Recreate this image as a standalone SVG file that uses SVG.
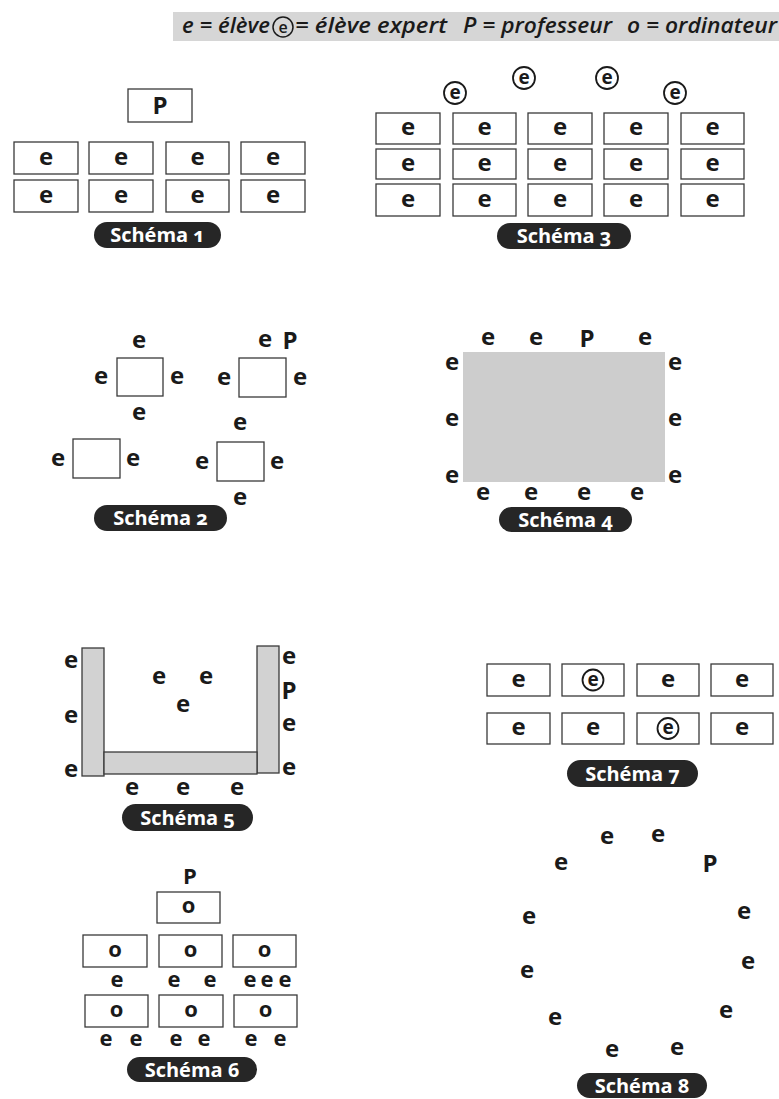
<svg xmlns="http://www.w3.org/2000/svg" width="779" height="1099" viewBox="0 0 779 1099">
<style>
.bg{fill:#fff}
.box{fill:#fff;stroke:#3a3a3a;stroke-width:1.3}
.gbar{fill:#d2d2d2;stroke:#3a3a3a;stroke-width:1.3}
.gtab{fill:#cdcdcd}
.t{font-family:"Open Sans","Noto Sans","Liberation Sans",sans-serif;font-weight:700;font-size:24px;fill:#1a1a1a;text-anchor:middle}
.t6{font-family:"Open Sans","Noto Sans","Liberation Sans",sans-serif;font-weight:700;font-size:22px;fill:#1a1a1a;text-anchor:middle}
.ts{font-family:"Open Sans","Noto Sans","Liberation Sans",sans-serif;font-weight:700;font-size:19px;fill:#1a1a1a;text-anchor:middle}
.ring{fill:none;stroke:#1a1a1a;stroke-width:1.8}
.pill{fill:#262626}
.pt{font-family:"Open Sans","Noto Sans","Liberation Sans",sans-serif;font-weight:700;font-size:20px;fill:#fff;text-anchor:middle;font-variant-numeric:oldstyle-nums}
.hd{font-family:"Open Sans","Noto Sans","Liberation Sans",sans-serif;font-style:italic;font-weight:600;font-size:21px;fill:#1a1a1a}
</style>
<rect class="bg" x="0" y="0" width="779" height="1099"/>

<g id="legend">
<rect x="173" y="12" width="606" height="29" fill="#d6d6d6"/>
<text class="hd" x="182" y="33" textLength="88" lengthAdjust="spacingAndGlyphs">e = élève</text>
<circle cx="283" cy="27" r="10" fill="none" stroke="#1a1a1a" stroke-width="1.5"/>
<text class="hd" x="283" y="32.5" text-anchor="middle" style="font-size:16px;font-style:normal">e</text>
<text class="hd" x="295" y="33" textLength="152" lengthAdjust="spacingAndGlyphs">= élève expert</text>
<text class="hd" x="463" y="33" textLength="149" lengthAdjust="spacingAndGlyphs">P = professeur</text>
<text class="hd" x="627" y="33" textLength="150" lengthAdjust="spacingAndGlyphs">o = ordinateur</text>
</g>

<g id="schema1">
<g id="s1-prof"><rect class="box" x="128" y="89" width="64" height="33"/><text class="t" x="160" y="114">P</text></g>
<g id="s1-r1c1"><rect class="box" x="14" y="142" width="64" height="32"/><text class="t" x="46" y="164.5">e</text></g>
<g id="s1-r1c2"><rect class="box" x="89" y="142" width="64" height="32"/><text class="t" x="121" y="164.5">e</text></g>
<g id="s1-r1c3"><rect class="box" x="166" y="142" width="63" height="32"/><text class="t" x="197.5" y="164.5">e</text></g>
<g id="s1-r1c4"><rect class="box" x="241" y="142" width="64" height="32"/><text class="t" x="273" y="164.5">e</text></g>
<g id="s1-r2c1"><rect class="box" x="14" y="180" width="64" height="32"/><text class="t" x="46" y="202.5">e</text></g>
<g id="s1-r2c2"><rect class="box" x="89" y="180" width="64" height="32"/><text class="t" x="121" y="202.5">e</text></g>
<g id="s1-r2c3"><rect class="box" x="166" y="180" width="63" height="32"/><text class="t" x="197.5" y="202.5">e</text></g>
<g id="s1-r2c4"><rect class="box" x="241" y="180" width="64" height="32"/><text class="t" x="273" y="202.5">e</text></g>
<g id="s1-label"><rect class="pill" x="94" y="222" width="127" height="26" rx="13"/><text class="pt" x="157.5" y="242">Schéma 1</text></g>
</g>

<g id="schema3">
<g id="s3-x1"><circle class="ring" cx="455" cy="93" r="11"/><text class="ts" x="455" y="98.5">e</text></g>
<g id="s3-x2"><circle class="ring" cx="524" cy="78" r="11"/><text class="ts" x="524" y="83.5">e</text></g>
<g id="s3-x3"><circle class="ring" cx="607" cy="78" r="11"/><text class="ts" x="607" y="83.5">e</text></g>
<g id="s3-x4"><circle class="ring" cx="675" cy="93" r="11"/><text class="ts" x="675" y="98.5">e</text></g>
<g id="s3-r1c1"><rect class="box" x="376" y="113" width="64" height="31"/><text class="t" x="408" y="135">e</text></g>
<g id="s3-r1c2"><rect class="box" x="453" y="113" width="63" height="31"/><text class="t" x="484.5" y="135">e</text></g>
<g id="s3-r1c3"><rect class="box" x="528" y="113" width="64" height="31"/><text class="t" x="560" y="135">e</text></g>
<g id="s3-r1c4"><rect class="box" x="604" y="113" width="64" height="31"/><text class="t" x="636" y="135">e</text></g>
<g id="s3-r1c5"><rect class="box" x="681" y="113" width="63" height="31"/><text class="t" x="712.5" y="135">e</text></g>
<g id="s3-r2c1"><rect class="box" x="376" y="149" width="64" height="30"/><text class="t" x="408" y="170.5">e</text></g>
<g id="s3-r2c2"><rect class="box" x="453" y="149" width="63" height="30"/><text class="t" x="484.5" y="170.5">e</text></g>
<g id="s3-r2c3"><rect class="box" x="528" y="149" width="64" height="30"/><text class="t" x="560" y="170.5">e</text></g>
<g id="s3-r2c4"><rect class="box" x="604" y="149" width="64" height="30"/><text class="t" x="636" y="170.5">e</text></g>
<g id="s3-r2c5"><rect class="box" x="681" y="149" width="63" height="30"/><text class="t" x="712.5" y="170.5">e</text></g>
<g id="s3-r3c1"><rect class="box" x="376" y="184" width="64" height="32"/><text class="t" x="408" y="206.5">e</text></g>
<g id="s3-r3c2"><rect class="box" x="453" y="184" width="63" height="32"/><text class="t" x="484.5" y="206.5">e</text></g>
<g id="s3-r3c3"><rect class="box" x="528" y="184" width="64" height="32"/><text class="t" x="560" y="206.5">e</text></g>
<g id="s3-r3c4"><rect class="box" x="604" y="184" width="64" height="32"/><text class="t" x="636" y="206.5">e</text></g>
<g id="s3-r3c5"><rect class="box" x="681" y="184" width="63" height="32"/><text class="t" x="712.5" y="206.5">e</text></g>
<g id="s3-label"><rect class="pill" x="497" y="223" width="134" height="26" rx="13"/><text class="pt" x="564" y="243">Schéma 3</text></g>
</g>

<g id="schema2">
<g id="s2-t1"><rect class="box" x="117" y="358" width="46" height="38"/></g>
<g id="s2-t2"><rect class="box" x="239" y="358" width="47" height="39"/></g>
<g id="s2-t3"><rect class="box" x="73" y="439" width="47" height="39"/></g>
<g id="s2-t4"><rect class="box" x="217" y="442" width="47" height="39"/></g>
<g id="s2-people">
<text class="t" x="139" y="347.5">e</text>
<text class="t" x="101" y="383.5">e</text>
<text class="t" x="177" y="383.5">e</text>
<text class="t" x="139" y="419.5">e</text>
<text class="t" x="265" y="346.5">e</text>
<text class="t" x="290" y="348.5">P</text>
<text class="t" x="224" y="384.5">e</text>
<text class="t" x="300" y="384.5">e</text>
<text class="t" x="240" y="429.5">e</text>
<text class="t" x="58" y="465.5">e</text>
<text class="t" x="133" y="465.5">e</text>
<text class="t" x="202" y="468.5">e</text>
<text class="t" x="277" y="468.5">e</text>
<text class="t" x="240" y="504.5">e</text>
</g>
<g id="s2-label"><rect class="pill" x="94" y="505" width="133" height="26" rx="13"/><text class="pt" x="160.5" y="525">Schéma 2</text></g>
</g>

<g id="schema4">
<g id="s4-table"><rect class="gtab" x="463" y="352" width="202" height="130"/></g>
<g id="s4-people">
<text class="t" x="488" y="344.5">e</text>
<text class="t" x="536" y="344.5">e</text>
<text class="t" x="587" y="346.5">P</text>
<text class="t" x="645" y="344.5">e</text>
<text class="t" x="452" y="369.5">e</text>
<text class="t" x="452" y="425.5">e</text>
<text class="t" x="452" y="482.5">e</text>
<text class="t" x="675" y="369.5">e</text>
<text class="t" x="675" y="425.5">e</text>
<text class="t" x="675" y="482.5">e</text>
<text class="t" x="483" y="499.5">e</text>
<text class="t" x="531" y="499.5">e</text>
<text class="t" x="584" y="499.5">e</text>
<text class="t" x="637" y="499.5">e</text>
</g>
<g id="s4-label"><rect class="pill" x="499" y="507" width="133" height="25" rx="12.5"/><text class="pt" x="565.5" y="526.5">Schéma 4</text></g>
</g>

<g id="schema5">
<g id="s5-left"><rect class="gbar" x="82" y="648" width="22" height="128"/></g>
<g id="s5-right"><rect class="gbar" x="257" y="646" width="22" height="127"/></g>
<g id="s5-bottom"><rect class="gbar" x="104" y="752" width="153" height="22"/></g>
<g id="s5-people">
<text class="t" x="71" y="667.5">e</text>
<text class="t" x="71" y="722.5">e</text>
<text class="t" x="71" y="776.5">e</text>
<text class="t" x="289" y="663.5">e</text>
<text class="t" x="289" y="698.5">P</text>
<text class="t" x="289" y="730.5">e</text>
<text class="t" x="289" y="774.5">e</text>
<text class="t" x="159" y="683.5">e</text>
<text class="t" x="206" y="683.5">e</text>
<text class="t" x="183" y="711.5">e</text>
<text class="t" x="132" y="794.5">e</text>
<text class="t" x="183" y="794.5">e</text>
<text class="t" x="237" y="794.5">e</text>
</g>
<g id="s5-label"><rect class="pill" x="122" y="804" width="131" height="27" rx="13.5"/><text class="pt" x="187.5" y="824.5">Schéma 5</text></g>
</g>

<g id="schema6">
<text class="t6" x="190" y="884">P</text>
<g id="s6-top"><rect class="box" x="157" y="892" width="63" height="31"/><text class="t6" x="188.5" y="913">o</text></g>
<g id="s6-r1c1"><rect class="box" x="83" y="935" width="64" height="32"/><text class="t6" x="115" y="956.5">o</text></g>
<g id="s6-r1c2"><rect class="box" x="159" y="935" width="63" height="32"/><text class="t6" x="190.5" y="956.5">o</text></g>
<g id="s6-r1c3"><rect class="box" x="233" y="935" width="63" height="32"/><text class="t6" x="264.5" y="956.5">o</text></g>
<g id="s6-r2c1"><rect class="box" x="85" y="995" width="63" height="32"/><text class="t6" x="116.5" y="1016.5">o</text></g>
<g id="s6-r2c2"><rect class="box" x="159" y="995" width="64" height="32"/><text class="t6" x="191" y="1016.5">o</text></g>
<g id="s6-r2c3"><rect class="box" x="234" y="995" width="63" height="32"/><text class="t6" x="265.5" y="1016.5">o</text></g>
<g id="s6-people">
<text class="t6" x="117" y="986.5">e</text>
<text class="t6" x="174" y="986.5">e</text>
<text class="t6" x="210" y="986.5">e</text>
<text class="t6" x="250" y="986.5">e</text>
<text class="t6" x="267" y="986.5">e</text>
<text class="t6" x="285" y="986.5">e</text>
<text class="t6" x="106" y="1045.5">e</text>
<text class="t6" x="136" y="1045.5">e</text>
<text class="t6" x="176" y="1045.5">e</text>
<text class="t6" x="204" y="1045.5">e</text>
<text class="t6" x="251" y="1045.5">e</text>
<text class="t6" x="280" y="1045.5">e</text>
</g>
<g id="s6-label"><rect class="pill" x="127" y="1057" width="130" height="25" rx="12.5"/><text class="pt" x="192" y="1076.5">Schéma 6</text></g>
</g>

<g id="schema7">
<g id="s7-r1c1"><rect class="box" x="487" y="664" width="63" height="32"/><text class="t" x="518.5" y="686.5">e</text></g>
<g id="s7-r1c2"><rect class="box" x="562" y="664" width="62" height="32"/><circle class="ring" cx="593" cy="680" r="10.5"/><text class="ts" x="593" y="685.5">e</text></g>
<g id="s7-r1c3"><rect class="box" x="637" y="664" width="62" height="32"/><text class="t" x="668" y="686.5">e</text></g>
<g id="s7-r1c4"><rect class="box" x="711" y="664" width="62" height="32"/><text class="t" x="742" y="686.5">e</text></g>
<g id="s7-r2c1"><rect class="box" x="487" y="713" width="63" height="31"/><text class="t" x="518.5" y="735">e</text></g>
<g id="s7-r2c2"><rect class="box" x="562" y="713" width="62" height="31"/><text class="t" x="593" y="735">e</text></g>
<g id="s7-r2c3"><rect class="box" x="637" y="713" width="62" height="31"/><circle class="ring" cx="668" cy="728.5" r="10.5"/><text class="ts" x="668" y="734">e</text></g>
<g id="s7-r2c4"><rect class="box" x="711" y="713" width="62" height="31"/><text class="t" x="742" y="735">e</text></g>
<g id="s7-label"><rect class="pill" x="567" y="760" width="131" height="27" rx="13.5"/><text class="pt" x="632.5" y="780.5">Schéma 7</text></g>
</g>

<g id="schema8">
<g id="s8-people">
<text class="t" x="607" y="843.5">e</text>
<text class="t" x="658" y="841.5">e</text>
<text class="t" x="561" y="869.5">e</text>
<text class="t" x="710" y="871.5">P</text>
<text class="t" x="529" y="923.5">e</text>
<text class="t" x="744" y="918.5">e</text>
<text class="t" x="527" y="977.5">e</text>
<text class="t" x="748" y="968.5">e</text>
<text class="t" x="555" y="1024.5">e</text>
<text class="t" x="726" y="1017.5">e</text>
<text class="t" x="612" y="1056.5">e</text>
<text class="t" x="677" y="1054.5">e</text>
</g>
<g id="s8-label"><rect class="pill" x="577" y="1073" width="130" height="25" rx="12.5"/><text class="pt" x="642" y="1092.5">Schéma 8</text></g>
</g>
</svg>
